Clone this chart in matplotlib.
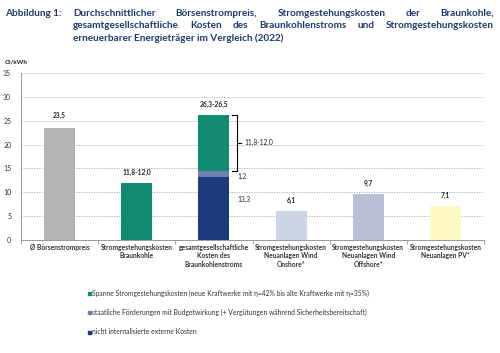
import matplotlib
matplotlib.use("Agg")
import matplotlib.pyplot as plt
import numpy as np

plt.rcParams['font.family'] = ['Lato', 'DejaVu Sans']

categories = ['Ø Börsenstrompreis', 'Stromgestehungskosten\nBraunkohle',
              'gesamtgesellschaftliche\nKosten des\nBraunkohlenstroms',
              'Stromgestehungskosten\nNeuanlagen Wind\nOnshore*',
              'Stromgestehungskosten\nNeuanlagen Wind\nOffshore*',
              'Stromgestehungskosten\nNeuanlagen PV*']
single_values = [23.5, 12.0, None, 6.1, 9.7, 7.1]
single_colors = ['#b3b3b3', '#138a72', None, '#ccd5e4', '#b9c1d7', '#fffac4']
value_labels = ['23,5', '11,8-12,0', '26,3-26,5', '6,1', '9,7', '7,1']

# stacked bar (gesamtgesellschaftliche Kosten)
stack_values = [13.3, 1.2, 11.8]
stack_colors = ['#1c3a7c', '#6f7fb3', '#138a72']
stack_labels = ['13,3', '1,2', '11,8-12,0']

legend_texts = ['Spanne Stromgestehungskosten (neue Kraftwerke mit η=42% bis alte Kraftwerke mit η=35%)',
                'staatliche Förderungen mit Budgetwirkung (+ Vergütungen während Sicherheitsbereitschaft)',
                'nicht internalisierte externe Kosten']
legend_colors = ['#138a72', '#6f7fb3', '#1c3a7c']

W, H = 500, 353
fig = plt.figure(figsize=(5, 3.53), dpi=100)
ax = fig.add_axes([21 / W, 1 - 240 / H, 463 / W, 167 / H])

x = np.arange(len(categories))
bw = 0.4
for i, v in enumerate(single_values):
    if v is not None:
        ax.bar(x[i], v, bw, color=single_colors[i], zorder=3)
bottom = 0
for v, c in zip(stack_values, stack_colors):
    ax.bar(x[2], v, bw, bottom=bottom, color=c, zorder=3)
    bottom += v
tops = [23.5, 12.0, bottom, 6.1, 9.7, 7.1]
for i, t in enumerate(tops):
    off = 2.7 if i == 0 else 2.2
    ax.text(x[i], t + off, value_labels[i], ha='center', va='center', fontsize=4.8,
            fontweight='bold', color='#222222')

# labels beside stacked bar
ax.text(x[2] + 0.3, 8.4, stack_labels[0], fontsize=4.8, va='center', color='#222222')
ax.text(x[2] + 0.3, 13.4, stack_labels[1], fontsize=4.8, va='center', color='#222222')
b0 = stack_values[0] + stack_values[1]
b1 = bottom
bx = x[2] + 0.3
ax.plot([bx - 0.06, bx, bx, bx - 0.06], [b1, b1, b0, b0], color='black', lw=0.8, zorder=4)
ax.plot([bx, bx + 0.05], [(b0 + b1) / 2] * 2, color='black', lw=0.8, zorder=4)
ax.text(bx + 0.1, (b0 + b1) / 2, stack_labels[2], fontsize=4.8, va='center', color='#222222')

ax.set_xlim(-0.5, len(categories) - 0.5)
ax.set_ylim(0, 35)
ax.set_yticks(range(0, 36, 5))
ax.tick_params(axis='y', labelsize=5, length=0, pad=7, colors='#333333')
ax.set_xticks(x)
ax.set_xticklabels(categories, fontsize=4.8, fontweight='bold', color='#333333', linespacing=1.2)
ax.set_xticks(np.arange(-0.5, len(categories)), minor=True)
ax.tick_params(axis='x', which='major', length=0, pad=3)
ax.tick_params(axis='x', which='minor', length=3, width=0.6, color='#999999')
ax.grid(axis='y', linestyle=(0, (1.5, 1.5)), color='#aaaaaa', lw=0.6, zorder=0)
for s in ['top', 'right']:
    ax.spines[s].set_visible(False)
ax.spines['left'].set_color('#999999')
ax.spines['bottom'].set_color('#999999')
ax.spines['left'].set_linewidth(0.7)
ax.spines['bottom'].set_linewidth(0.7)

# legend
for k, (t, c) in enumerate(zip(legend_texts, legend_colors)):
    yy = 1 - (293 + 19.5 * k) / H
    fig.patches.append(plt.Rectangle((88 / W, yy - 1.5 / H), 3 / W, 3 / H, transform=fig.transFigure,
                                     color=c, figure=fig))
    fig.text(92 / W, yy, t, fontsize=4.9, va='center', color='#333333')

# title
navy = '#1f3a6e'
fs = 7.2
fig.text(5 / W, 1 - 13 / H, 'Abbildung 1:', fontsize=fs, fontweight='bold', color=navy, va='center')
lines = [['Durchschnittlicher', 'Börsenstrompreis,', 'Stromgestehungskosten', 'der', 'Braunkohle,'],
         ['gesamtgesellschaftliche', 'Kosten', 'des', 'Braunkohlenstroms', 'und', 'Stromgestehungskosten']]
renderer = fig.canvas.get_renderer()
x0, x1 = 73, 494
for li, words in enumerate(lines):
    yy = 1 - (13 + 12.5 * li) / H
    objs = [fig.text(0, yy, w, fontsize=fs, fontweight='bold', color=navy, va='center') for w in words]
    widths = [o.get_window_extent(renderer).width for o in objs]
    gap = (x1 - x0 - sum(widths)) / (len(words) - 1)
    pos = x0
    for o, w in zip(objs, widths):
        o.set_x(pos / W)
        pos += w + gap
fig.text(73 / W, 1 - 38 / H, 'erneuerbarer Energieträger im Vergleich (2022)', fontsize=fs,
         fontweight='bold', color=navy, va='center')
fig.text(5 / W, 1 - 62 / H, 'Ct/kWh', fontsize=4.5, fontweight='bold', color='#222222', va='center')

fig.savefig('out.png', dpi=100)
